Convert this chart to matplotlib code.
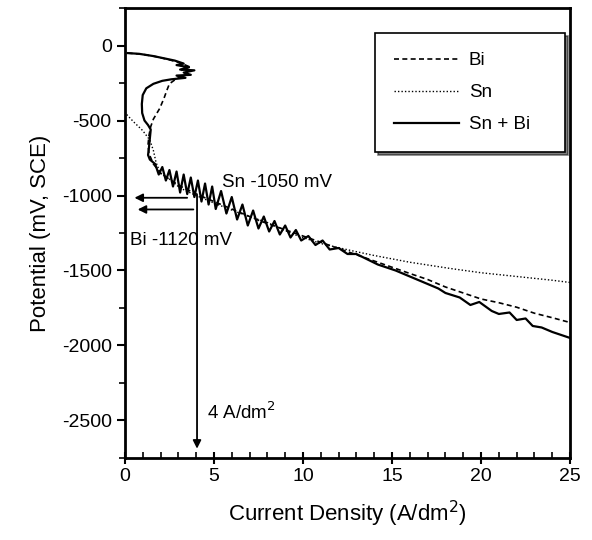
import matplotlib
matplotlib.use('Agg')
import matplotlib.pyplot as plt
from matplotlib.ticker import MultipleLocator

plt.rcParams['font.family'] = ['Liberation Sans', 'DejaVu Sans']
plt.rcParams['axes.unicode_minus'] = False

# Sn + Bi (solid), noisy trace read point by point
snbi_x = [0.15, 0.8, 1.6, 2.2, 2.8, 3.3, 2.9, 3.6, 3.1, 3.9, 3.3, 3.7, 2.9, 3.4, 2.6, 2.1, 1.6, 1.2,
          1.0, 0.95, 0.97, 1.1, 1.3, 1.45, 1.4, 1.35, 1.3, 1.4,
          1.7, 1.9, 2.1, 2.3, 2.5, 2.7, 2.9, 3.1, 3.3, 3.5, 3.7, 3.9, 4.1, 4.3, 4.5, 4.7, 4.9,
          5.1, 5.4, 5.7, 6.0, 6.3, 6.6, 6.9, 7.2, 7.5, 7.8, 8.1, 8.4, 8.7, 9.0, 9.3, 9.6, 9.9,
          10.3, 10.7, 11.1, 11.5, 12.0, 12.5, 13.0, 14.2,
          15.2, 16.0, 16.6, 17.0, 17.6, 18.0, 18.8, 19.4, 19.9, 20.6, 21.0, 21.6, 22.0, 22.5,
          22.9, 23.4, 24.0, 24.5, 25.0]
snbi_y = [-50, -55, -70, -85, -100, -120, -130, -145, -160, -165, -180, -195, -200, -215, -225,
          -235, -255, -285, -330, -390, -450, -500, -530, -560, -620, -680, -730, -760,
          -790, -860, -810, -900, -830, -940, -840, -980, -860, -990, -880, -1010, -900, -1040,
          -920, -1060, -940, -1090, -970, -1120, -1010, -1160, -1060, -1200, -1100, -1220,
          -1140, -1240, -1170, -1260, -1200, -1280, -1230, -1300, -1270, -1330, -1300, -1360,
          -1350, -1390, -1390, -1460,
          -1500, -1540, -1570, -1590, -1620, -1650, -1680, -1730, -1710, -1770, -1790,
          -1780, -1830, -1820, -1870, -1880, -1910, -1930, -1950]

# Bi (dashed)
bi_x = [0.15, 1.0, 1.8, 2.5, 3.1, 3.6, 3.2, 3.5, 2.9, 2.5, 2.35, 2.2, 1.95, 1.6, 1.45, 1.35, 1.3,
        1.35, 1.6, 2.0, 2.6, 3.3, 4.2, 5.2, 6.4, 7.6, 8.8, 10.0, 11.2, 12.4, 13.6, 14.8, 16.0,
        17.0, 18.0, 19.0, 20.0, 21.0, 22.0, 23.0, 24.0, 25.0]
bi_y = [-50, -58, -75, -95, -115, -140, -165, -190, -220, -255, -300, -350, -420, -490, -540,
        -600, -660, -720, -790, -850, -900, -950, -1000, -1050, -1110, -1170, -1220, -1270,
        -1320, -1370, -1420, -1470, -1520, -1560, -1610, -1650, -1690, -1715, -1745, -1785,
        -1815, -1847]

# Sn (dotted)
sn_x = [0.1, 0.5, 1.0, 1.4, 1.6, 1.75, 2.0, 2.5, 3.1, 4.0, 5.0, 6.5, 8.0, 9.5, 11.0, 12.7, 14.0,
        16.0, 18.3, 20.0, 22.0, 24.0, 25.0]
sn_y = [-460, -510, -567, -630, -700, -780, -853, -890, -950, -1000, -1050, -1120, -1180, -1260,
        -1320, -1367, -1400, -1445, -1487, -1515, -1540, -1565, -1580]

fig = plt.figure(figsize=(5.92, 5.4), dpi=100)
ax = fig.add_axes([0.211, 0.152, 0.752, 0.833])

ax.plot(bi_x, bi_y, color='black', lw=1.2, linestyle=(0, (3, 2)), label='Bi')
ax.plot(sn_x, sn_y, color='black', lw=1.0, linestyle=(0, (1, 1.5)), label='Sn')
ax.plot(snbi_x, snbi_y, color='black', lw=1.6, label='Sn + Bi')

# arrows and notes
ax.annotate('', xy=(0.38, -1015), xytext=(3.65, -1015),
            arrowprops=dict(arrowstyle='-|>', color='black', lw=1.3, mutation_scale=12))
ax.annotate('', xy=(0.56, -1093), xytext=(4.0, -1093),
            arrowprops=dict(arrowstyle='-|>', color='black', lw=1.3, mutation_scale=12))
ax.annotate('', xy=(4.05, -2707), xytext=(4.05, -980),
            arrowprops=dict(arrowstyle='-|>', color='black', lw=1.3, mutation_scale=12))
ax.text(5.45, -913, 'Sn -1050 mV', fontsize=13.5, va='center')
ax.text(0.28, -1300, 'Bi -1120 mV', fontsize=13.5, va='center')
ax.text(4.6, -2447, '4 A/dm$^2$', fontsize=13.5, va='center')

ax.set_xlim(0, 25)
ax.set_ylim(-2750, 250)
ax.xaxis.set_major_locator(MultipleLocator(5))
ax.xaxis.set_minor_locator(MultipleLocator(1))
ax.yaxis.set_major_locator(MultipleLocator(500))
ax.yaxis.set_minor_locator(MultipleLocator(250))
ax.tick_params(axis='x', which='major', direction='inout', length=8, width=1.5, labelsize=14)
ax.tick_params(axis='x', which='minor', direction='in', length=4, width=1.2)
ax.tick_params(axis='y', which='major', direction='out', length=6, width=1.5, labelsize=14)
ax.tick_params(axis='y', which='minor', direction='out', length=4, width=1.2)
for s in ax.spines.values():
    s.set_linewidth(2)

ax.set_xlabel('Current Density (A/dm$^2$)', fontsize=16, labelpad=10)
ax.set_ylabel('Potential (mV, SCE)', fontsize=16, labelpad=8)

leg = ax.legend(loc='upper left', bbox_to_anchor=(0.562, 0.944, 0.427, 0.0), mode='expand',
                fontsize=13.5, frameon=True, fancybox=False, edgecolor='black',
                shadow={'color': 'black'}, handlelength=3.5, handletextpad=0.5,
                labelspacing=0.8, borderpad=1.0, borderaxespad=0)
leg.get_frame().set_linewidth(1.2)

fig.savefig('out.png', dpi=100)
